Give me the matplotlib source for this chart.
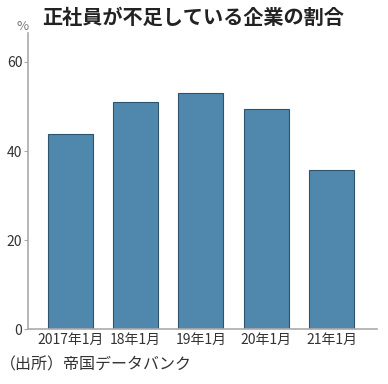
import matplotlib
matplotlib.use('Agg')
import matplotlib.pyplot as plt
import numpy as np

plt.rcParams['font.family'] = ['Noto Sans CJK JP', 'DejaVu Sans']

labels = ['2017年1月', '18年1月', '19年1月', '20年1月', '21年1月']
values = [43.8, 51.0, 53.0, 49.4, 35.7]

fig = plt.figure(figsize=(3.88, 3.84), dpi=100)
ax = fig.add_axes([0.072, 0.143, 0.9, 0.771])

x = np.arange(len(labels))
ax.bar(x, values, width=0.69, color='#4f87ad', edgecolor='#2e536c', linewidth=0.8)

ax.set_xlim(-0.65, 4.7)
ax.set_ylim(0, 66.5)
ax.set_yticks([0, 20, 40, 60])
ax.set_xticks(x)
ax.set_xticklabels(labels)

for s in ['top', 'right']:
    ax.spines[s].set_visible(False)
for s in ['left', 'bottom']:
    ax.spines[s].set_color('#aaaaaa')
    ax.spines[s].set_linewidth(1.2)
ax.tick_params(axis='y', length=3, color='#aaaaaa', labelsize=10, labelcolor='#333333', pad=1)
ax.tick_params(axis='x', length=0, labelsize=10, labelcolor='#333333', pad=3)

fig.text(0.108, 0.956, '正社員が不足している企業の割合', fontsize=14.5, fontweight='bold',
         va='center', ha='left', color='#222222')
fig.text(0.057, 0.93, '%', fontsize=9.5, color='#777777', ha='center', va='center')
fig.text(0.0, 0.05, '（出所）帝国データバンク', fontsize=11.5, color='#333333', ha='left', va='center')

fig.savefig('out.png', dpi=100)
